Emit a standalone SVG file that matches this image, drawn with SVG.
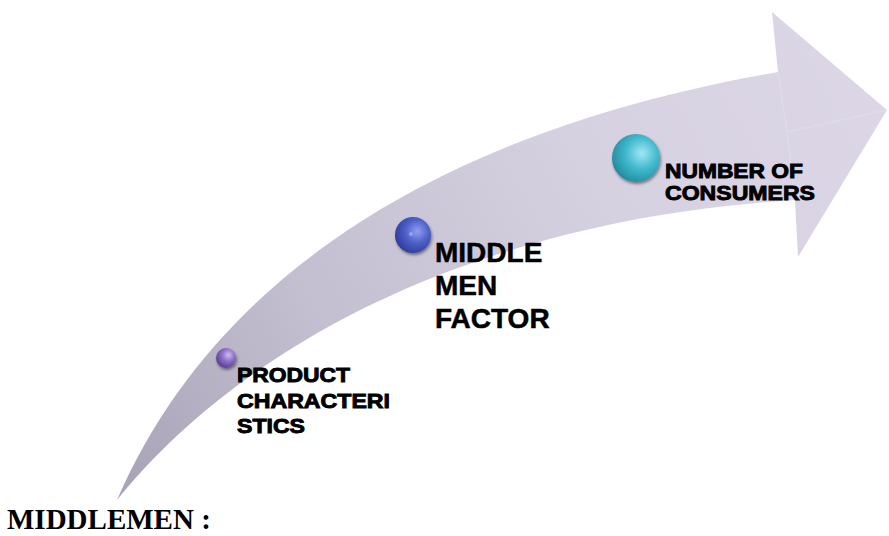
<svg xmlns="http://www.w3.org/2000/svg" width="889" height="536" viewBox="0 0 889 536">
  <style>
    .lbl { font-family: "Liberation Sans", Arial, sans-serif; font-weight: bold; fill: #000; }
    .sm { font-size: 20px; stroke: #000; stroke-width: 0.9px; }
    .lg { font-size: 28px; stroke: #000; stroke-width: 0.5px; }
    .title { font-family: "Liberation Serif", "Times New Roman", serif; font-weight: bold; font-size: 29px; fill: #000; }
  </style>
  <defs>
    <linearGradient id="arrowFill" x1="117" y1="500" x2="887" y2="80" gradientUnits="userSpaceOnUse">
      <stop offset="0" stop-color="#a7a2b6"/>
      <stop offset="0.3" stop-color="#c4bfd0"/>
      <stop offset="0.65" stop-color="#d6d1e1"/>
      <stop offset="1" stop-color="#dcd6e7"/>
    </linearGradient>
    <radialGradient id="sPurple" cx="0.62" cy="0.35" r="0.75">
      <stop offset="0" stop-color="#cdbdf2"/>
      <stop offset="0.45" stop-color="#8a6cc4"/>
      <stop offset="1" stop-color="#4e3486"/>
    </radialGradient>
    <radialGradient id="sBlue" cx="0.62" cy="0.4" r="0.75">
      <stop offset="0" stop-color="#8f9ff0"/>
      <stop offset="0.45" stop-color="#4b5fc6"/>
      <stop offset="1" stop-color="#26328f"/>
    </radialGradient>
    <radialGradient id="sCyan" cx="0.62" cy="0.4" r="0.75">
      <stop offset="0" stop-color="#9fe8f4"/>
      <stop offset="0.45" stop-color="#40b8cc"/>
      <stop offset="1" stop-color="#1a7d90"/>
    </radialGradient>
    <filter id="shadow" x="-30%" y="-30%" width="170%" height="170%">
      <feDropShadow dx="1" dy="2" stdDeviation="1.5" flood-color="#000" flood-opacity="0.45"/>
    </filter>
  </defs>
  <rect width="889" height="536" fill="#ffffff"/>

  <g id="connectors">
    <path id="arrow" d="M117,500 C230,360 450,222 795,200 L798,257 L887,110 L772,12 L778,72 C500,120 230,240 117,500 Z" fill="url(#arrowFill)"/>
    <path d="M778,72 L787,132 L887,110 M787,132 L795,200" fill="none" stroke="#ffffff" stroke-opacity="0.12" stroke-width="2"/>
  </g>

  <g id="node-product">
    <circle cx="226" cy="358" r="10" fill="url(#sPurple)" filter="url(#shadow)"/>
    <text class="lbl sm" x="237" y="382" textLength="113" lengthAdjust="spacingAndGlyphs">PRODUCT</text>
    <text class="lbl sm" x="237" y="408" textLength="153" lengthAdjust="spacingAndGlyphs">CHARACTERI</text>
    <text class="lbl sm" x="237" y="433" textLength="68" lengthAdjust="spacingAndGlyphs">STICS</text>
  </g>

  <g id="node-middlemen">
    <circle cx="413" cy="235" r="18" fill="url(#sBlue)" filter="url(#shadow)"/>
    <circle cx="411" cy="234" r="2" fill="#8fa0f5"/>
    <text class="lbl lg" x="435" y="262">MIDDLE</text>
    <text class="lbl lg" x="435" y="295">MEN</text>
    <text class="lbl lg" x="435" y="328">FACTOR</text>
  </g>

  <g id="node-consumers">
    <circle cx="636" cy="158" r="24" fill="url(#sCyan)" filter="url(#shadow)"/>
    <text class="lbl sm" x="665" y="178" textLength="138" lengthAdjust="spacingAndGlyphs">NUMBER OF</text>
    <text class="lbl sm" x="665" y="200" textLength="150" lengthAdjust="spacingAndGlyphs">CONSUMERS</text>
  </g>

  <g id="title">
    <text class="title" x="7" y="529">MIDDLEMEN :</text>
  </g>
</svg>
